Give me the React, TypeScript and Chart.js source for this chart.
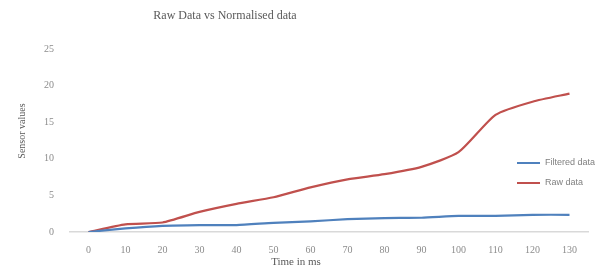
import React, { useEffect, useRef } from 'react';
import { Chart, registerables } from 'chart.js';

Chart.register(...registerables);

const categories = ['0', '10', '20', '30', '40', '50', '60', '70', '80', '90', '100', '110', '120', '130'];
const filteredData = [0, 0.5, 0.85, 0.95, 0.95, 1.25, 1.45, 1.75, 1.9, 1.95, 2.2, 2.2, 2.35, 2.35];
const rawData = [0, 1.05, 1.3, 2.75, 3.85, 4.75, 6.1, 7.2, 7.9, 8.9, 10.9, 16.0, 17.8, 18.9];
const yMin = 0;
const yMax = 25;
const yStep = 5;

const chartTitle = 'Raw Data vs Normalised data';
const xTitle = 'Time in ms';
const yTitle = 'Sensor values';
const seriesNames = ['Filtered data', 'Raw data'];
const seriesColors = ['#4f81bd', '#c0504d'];

const textPlugin = {
  id: 'textPlugin',
  afterDraw(chart: any) {
    const ctx = chart.ctx;
    ctx.save();
    // title
    ctx.fillStyle = '#595959';
    ctx.font = '12px "Liberation Serif", serif';
    ctx.textAlign = 'center';
    ctx.textBaseline = 'middle';
    ctx.fillText(chartTitle, 225, 16);
    // x title
    ctx.font = '11px "Liberation Serif", serif';
    ctx.fillText(xTitle, 296, 262);
    // y title
    ctx.save();
    ctx.translate(22, 131);
    ctx.rotate(-Math.PI / 2);
    ctx.font = '10px "Liberation Serif", serif';
    ctx.fillText(yTitle, 0, 0);
    ctx.restore();
    // legend
    ctx.font = '9px "Liberation Sans", sans-serif';
    ctx.textAlign = 'left';
    seriesNames.forEach((name, i) => {
      const y = 163 + i * 20;
      ctx.strokeStyle = seriesColors[i];
      ctx.lineWidth = 2;
      ctx.beginPath();
      ctx.moveTo(517, y);
      ctx.lineTo(540, y);
      ctx.stroke();
      ctx.fillStyle = '#7f7f7f';
      ctx.fillText(name, 545, y);
    });
    ctx.restore();
  },
};

export default function App() {
  const ref = useRef<HTMLCanvasElement>(null);
  useEffect(() => {
    document.body.style.margin = '0';
    const chart = new Chart(ref.current!, {
      type: 'line',
      data: {
        labels: categories,
        datasets: [
          {
            label: seriesNames[0],
            data: filteredData,
            borderColor: seriesColors[0],
            backgroundColor: seriesColors[0],
            borderWidth: 2.2,
            pointRadius: 0,
            tension: 0.2,
          },
          {
            label: seriesNames[1],
            data: rawData,
            borderColor: seriesColors[1],
            backgroundColor: seriesColors[1],
            borderWidth: 2.2,
            pointRadius: 0,
            tension: 0.2,
          },
        ],
      },
      options: {
        animation: false,
        responsive: false,
        layout: { padding: { top: 49, right: 12, left: 0, bottom: 0 } },
        plugins: {
          legend: { display: false },
          title: { display: false },
          tooltip: { enabled: false },
        },
        scales: {
          x: {
            type: 'category',
            offset: true,
            grid: { display: false },
            border: { display: true, color: '#d9d9d9', width: 1.5 },
            ticks: {
              color: '#8c8c8c',
              font: { family: '"Liberation Serif", serif', size: 10 },
              padding: 4,
              maxRotation: 0,
              autoSkip: false,
            },
            afterFit: (s: any) => {
              s.height = 37;
            },
          },
          y: {
            min: yMin,
            max: yMax,
            grid: { display: false },
            border: { display: false },
            ticks: {
              stepSize: yStep,
              color: '#8c8c8c',
              font: { family: '"Liberation Serif", serif', size: 10 },
              padding: 8,
            },
            afterFit: (s: any) => {
              s.width = 70;
            },
          },
        },
      },
      plugins: [textPlugin],
    });
    return () => chart.destroy();
  }, []);
  return <canvas ref={ref} width={600} height={269} style={{ display: 'block' }} />;
}
